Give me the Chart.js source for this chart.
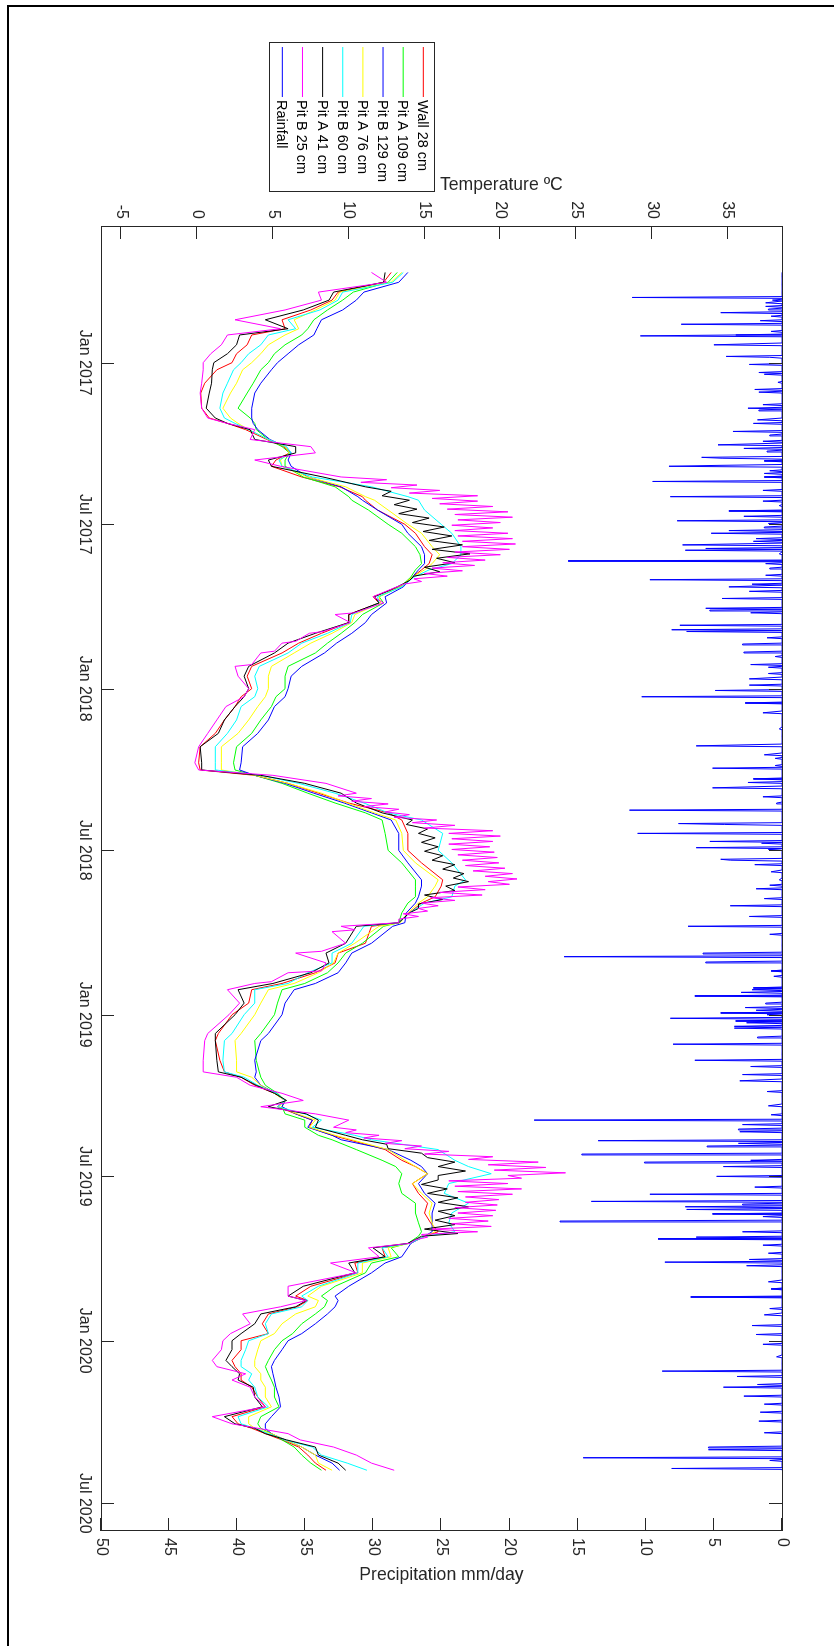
<!DOCTYPE html>
<html>
<head>
<meta charset="utf-8">
<script src="https://cdn.jsdelivr.net/npm/chart.js@4.4.1/dist/chart.umd.min.js"></script>
<style>
html,body{margin:0;padding:0;background:#fff;overflow:hidden;width:834px;height:1646px;}
#wrap{position:absolute;left:0;top:0;width:1646px;height:834px;transform-origin:0 0;transform:translate(834px,0) rotate(90deg);}
canvas{display:block;}
</style>
</head>
<body>
<div id="wrap"><canvas id="c" width="1646" height="834"></canvas></div>
<script>
// ---------- DATA ----------
const sampleDates = [
'2016-09-22','2016-10-03','2016-10-14','2016-10-23','2016-11-03','2016-11-14','2016-11-24','2016-12-01','2016-12-12','2016-12-22',
'2017-01-01','2017-01-09','2017-01-24','2017-02-04','2017-02-21','2017-03-04','2017-03-10','2017-03-17','2017-03-28','2017-04-05',
'2017-04-12','2017-04-20','2017-04-27','2017-05-09','2017-05-20','2017-05-31','2017-06-04','2017-06-15','2017-07-01','2017-07-11',
'2017-07-26','2017-08-04','2017-08-14','2017-08-21','2017-08-29','2017-09-09','2017-09-20','2017-09-27','2017-10-10','2017-10-19',
'2017-10-31','2017-11-11','2017-11-22','2017-12-07','2017-12-18',
'2018-01-01','2018-01-10','2018-01-21','2018-02-05','2018-02-20','2018-03-07','2018-03-25','2018-04-02','2018-04-08','2018-04-17',
'2018-04-28','2018-05-09','2018-05-20','2018-05-28','2018-06-12','2018-07-01','2018-07-15','2018-08-03','2018-08-10','2018-08-22',
'2018-08-29','2018-09-09','2018-09-20','2018-09-24','2018-10-13','2018-10-24','2018-11-04','2018-11-15','2018-11-27','2018-12-04',
'2018-12-19',
'2019-01-01','2019-01-22','2019-01-30','2019-02-21','2019-03-06','2019-03-12','2019-03-21','2019-03-30','2019-04-07','2019-04-14',
'2019-04-22','2019-04-29','2019-05-07','2019-05-16','2019-05-21','2019-06-01','2019-06-13','2019-06-20','2019-06-28','2019-07-09',
'2019-07-20','2019-07-31','2019-08-11','2019-08-22','2019-09-01','2019-09-06','2019-09-14','2019-09-19','2019-09-29','2019-10-06',
'2019-10-17','2019-11-01','2019-11-12','2019-11-17','2019-11-24','2019-12-02','2019-12-13','2019-12-24',
'2020-01-01','2020-01-11','2020-01-23','2020-01-30','2020-02-07','2020-02-14','2020-02-22','2020-03-04','2020-03-15','2020-03-26',
'2020-04-03','2020-04-08','2020-04-14','2020-04-21','2020-04-29','2020-05-08','2020-05-17','2020-05-25'
];

const wall28 = [
12.8,12.3,9.3,8.9,7.5,5.6,5.8,3.6,3.3,2.6,
2.3,1.3,0.5,0.24,0.3,0.8,2.0,3.2,4.6,5.7,6.1,5.2,4.9,6.9,9.4,10.9,11.1,11.9,13.7,14.4,15.0,15.5,15.3,14.8,14.2,13.4,11.6,12.0,10.0,10.0,8.2,6.7,5.6,3.6,3.3,
3.6,2.9,2.5,1.8,1.2,0.2,0.1,0.2,3.8,6.0,8.0,10.0,12.6,13.5,13.9,13.9,14.8,16.2,16.1,15.7,14.8,14.0,13.3,11.5,11.1,9.3,9.1,7.8,5.6,3.6,3.4,
2.3,1.4,1.2,1.5,1.8,2.9,3.8,5.1,5.8,5.3,6.5,7.6,7.4,8.9,10.0,12.4,13.5,14.4,15.2,14.2,14.6,15.2,15.0,15.4,15.9,15.0,14.0,12.2,12.4,10.4,10.6,7.5,6.5,7.3,6.6,4.7,4.3,4.7,
2.9,2.9,2.3,2.5,2.9,2.9,3.6,4.0,4.5,2.3,2.7,3.6,4.5,5.6,6.7,7.3,7.8,8.5
];
const pitA109 = [
13.2,12.6,10.3,9.6,8.6,7.7,7.3,6.9,5.8,5.1,
4.7,4.2,3.7,3.3,2.7,3.5,3.8,3.9,4.7,5.6,6.1,5.8,5.8,7.0,9.1,10.0,10.2,11.3,12.6,13.5,14.4,14.7,14.8,14.4,14.1,13.4,12.0,12.3,10.9,10.4,9.5,8.6,7.8,6.0,5.8,
5.8,5.2,4.9,4.2,3.6,2.6,2.4,2.5,3.8,5.6,7.3,9.1,11.1,12.2,12.4,12.6,13.5,14.4,14.4,14.4,13.9,13.5,13.3,12.3,10.9,9.8,9.3,8.6,7.1,5.6,5.3,
5.1,4.2,3.8,3.9,4.1,4.2,4.5,5.3,5.8,5.6,5.8,7.1,7.1,8.0,8.9,10.5,12.2,13.1,13.5,13.3,13.5,14.4,14.4,14.6,14.8,14.6,13.9,12.8,13.3,11.5,11.1,9.1,8.2,8.6,8.4,7.8,6.9,6.3,
5.6,5.1,4.7,4.5,4.7,4.9,5.1,5.1,5.4,4.2,4.0,4.2,4.9,5.6,6.4,6.9,7.5,8.2
];
const pitB129 = [
13.9,13.3,11.0,10.5,9.6,8.2,7.9,7.7,6.7,6.0,
5.3,4.9,4.2,3.8,3.6,3.6,3.7,4.0,4.8,5.8,6.2,6.0,6.2,7.3,9.5,10.6,10.9,11.9,13.5,13.9,14.8,15.0,15.0,14.6,14.2,13.6,12.4,12.5,11.5,11.1,10.2,9.2,8.4,6.9,6.2,
6.0,5.8,5.1,4.7,4.0,3.0,2.9,2.8,3.8,5.8,7.7,9.7,11.5,12.8,13.3,13.3,13.9,14.8,14.8,14.6,14.4,13.8,13.7,12.9,11.5,10.2,9.8,9.3,7.8,6.4,5.8,
5.6,4.7,4.2,3.8,3.9,3.8,4.2,5.2,5.8,5.6,6.5,7.6,7.3,8.9,9.5,12.6,14.1,14.8,15.2,14.6,15.0,15.7,15.5,15.5,15.5,15.0,14.1,13.9,13.5,12.4,11.5,10.0,9.1,9.3,9.1,8.6,7.8,6.9,
6.0,5.6,5.1,4.9,5.0,5.1,5.2,5.4,5.5,4.9,4.5,4.5,4.9,5.8,6.9,7.8,8.9,9.4
];
const pitA76 = [
13.5,12.8,9.4,9.1,7.8,6.4,6.7,5.8,4.7,4.2,
3.6,3.0,2.6,2.2,1.7,2.2,2.7,3.4,4.7,5.8,6.1,5.5,5.6,7.3,9.8,11.1,11.7,12.6,13.9,14.8,15.5,16.0,15.5,15.0,14.2,13.4,12.0,12.1,10.4,10.2,8.9,7.5,6.4,4.9,4.7,
4.7,4.5,4.0,3.4,2.7,1.6,1.6,1.6,3.8,6.0,8.2,9.9,11.7,13.1,13.5,13.6,14.4,15.9,15.7,15.2,14.6,13.9,13.4,12.0,10.4,9.3,9.0,8.0,6.4,4.7,4.2,
3.8,2.9,2.5,2.6,2.6,3.6,4.2,5.1,5.8,5.4,6.6,7.8,7.4,9.1,10.2,12.6,13.7,14.4,15.2,14.2,14.8,15.5,15.3,15.5,15.7,15.0,14.0,12.6,12.8,10.9,10.9,8.2,7.3,8.0,7.8,6.5,5.6,5.1,
4.2,4.0,3.8,3.8,4.2,4.2,4.5,4.5,4.9,3.4,3.4,3.8,4.9,5.8,6.9,7.8,8.0,8.9
];
const pitB60 = [
13.6,12.9,9.6,9.3,8.1,6.0,6.5,4.7,4.2,3.4,
2.9,2.4,2.0,1.7,1.5,1.8,2.5,3.4,4.7,5.9,6.2,5.4,5.6,7.6,11.5,13.9,14.6,15.0,16.1,16.8,17.4,17.4,16.8,15.3,14.3,13.5,11.9,12.0,10.2,10.1,8.6,6.9,6.0,4.1,3.8,
4.0,3.8,2.9,2.6,2.0,1.2,1.2,1.2,4.2,6.7,9.1,11.0,12.6,14.8,16.2,15.9,16.8,17.7,17.0,16.8,15.0,14.0,13.3,11.0,10.2,8.9,8.9,7.3,6.0,3.8,3.8,
3.1,2.3,1.8,1.7,1.8,3.1,4.0,5.2,5.8,5.3,7.1,8.2,7.6,10.4,11.5,15.9,17.0,17.9,19.4,16.6,16.3,17.9,16.8,16.6,17.0,15.0,14.0,12.2,12.6,10.6,10.6,8.0,6.9,7.3,6.9,4.9,4.5,4.7,
3.4,3.2,2.9,2.9,3.6,3.4,3.8,4.0,4.7,2.7,2.9,3.8,4.7,5.8,7.6,8.2,9.9,11.2
];

// Pit A 41 cm (own, denser dates in summer)
const pitA41Dates = [
'2016-09-22','2016-10-03','2016-10-14','2016-10-23','2016-11-03','2016-11-14','2016-11-24','2016-12-01','2016-12-12','2016-12-22',
'2017-01-01','2017-01-09','2017-01-24','2017-02-04','2017-02-21','2017-03-04','2017-03-10','2017-03-17','2017-03-28','2017-04-05',
'2017-04-12','2017-04-20','2017-04-27','2017-05-09',
'2017-05-20','2017-05-25','2017-05-30','2017-06-04','2017-06-09','2017-06-14','2017-06-19','2017-06-24','2017-06-29','2017-07-04',
'2017-07-09','2017-07-14','2017-07-19','2017-07-24','2017-07-29','2017-08-03','2017-08-08','2017-08-13','2017-08-18','2017-08-23',
'2017-08-28','2017-09-02',
'2017-09-09','2017-09-20','2017-09-27','2017-10-10','2017-10-19','2017-10-31','2017-11-11','2017-11-22','2017-12-07','2017-12-18',
'2018-01-01','2018-01-10','2018-01-21','2018-02-05','2018-02-20','2018-03-07','2018-03-25','2018-04-02','2018-04-08','2018-04-17',
'2018-04-28','2018-05-09','2018-05-20',
'2018-05-28','2018-06-02','2018-06-07','2018-06-12','2018-06-17','2018-06-22','2018-06-27','2018-07-02','2018-07-07','2018-07-12',
'2018-07-17','2018-07-22','2018-07-27','2018-08-01','2018-08-05','2018-08-10','2018-08-15','2018-08-20','2018-08-25','2018-08-30',
'2018-09-04',
'2018-09-09','2018-09-20','2018-09-24','2018-10-13','2018-10-24','2018-11-04','2018-11-15','2018-11-27','2018-12-04','2018-12-19',
'2019-01-01','2019-01-22','2019-01-30','2019-02-21','2019-03-06','2019-03-12','2019-03-21','2019-03-30','2019-04-07','2019-04-14',
'2019-04-22','2019-04-29','2019-05-07','2019-05-16',
'2019-05-21','2019-05-26','2019-05-31','2019-06-05','2019-06-10','2019-06-15','2019-06-20','2019-06-25','2019-06-30','2019-07-05',
'2019-07-10','2019-07-15','2019-07-20','2019-07-25','2019-07-30','2019-08-04','2019-08-09','2019-08-14','2019-08-19','2019-08-24',
'2019-08-29','2019-09-03','2019-09-06',
'2019-09-14','2019-09-19','2019-09-29','2019-10-06','2019-10-17','2019-11-01','2019-11-12','2019-11-17','2019-11-24','2019-12-02',
'2019-12-13','2019-12-24',
'2020-01-01','2020-01-11','2020-01-23','2020-01-30','2020-02-07','2020-02-14','2020-02-22','2020-03-04','2020-03-15','2020-03-26',
'2020-04-03','2020-04-08','2020-04-14','2020-04-21','2020-04-29','2020-05-08','2020-05-17','2020-05-25'
];
const pitA41 = [
12.4,12.3,9.0,8.7,7.0,4.5,6.0,2.8,2.6,2.0,
1.1,1.0,0.95,0.8,0.6,1.2,2.0,3.5,3.8,6.5,
6.5,4.7,4.9,8.3,
11.1,12.8,12.2,14.0,13.0,14.5,13.3,15.3,14.2,16.3,
14.9,16.8,15.3,17.5,15.5,18.0,15.8,17.0,15.0,16.0,
14.3,14.0,
13.2,11.7,12.0,10.0,10.0,7.8,6.0,5.1,3.4,3.1,
3.4,3.1,2.5,1.8,1.4,0.2,0.3,0.3,4.2,7.1,
9.5,10.5,12.2,
14.2,13.8,15.2,14.6,15.7,14.8,15.9,15.0,16.2,15.5,
17.0,16.2,17.6,16.9,17.9,16.4,17.0,15.0,16.2,14.6,
14.6,
14.0,13.3,10.5,9.8,8.5,8.7,7.5,5.0,2.7,3.1,
2.5,1.2,1.2,1.3,1.4,2.9,3.9,5.1,5.9,4.7,
7.2,8.0,7.8,9.8,
10.9,12.5,12.6,14.8,15.2,17.0,15.9,17.7,15.9,15.9,
14.8,16.5,15.2,17.2,15.9,17.9,15.9,17.0,15.7,17.0,
15.0,17.2,14.8,
13.9,11.6,12.4,10.0,10.4,7.0,6.0,7.2,6.5,4.2,
3.8,2.9,
2.3,2.3,1.9,2.3,2.8,2.7,3.7,3.8,4.3,1.8,
2.5,3.8,4.5,5.9,7.8,8.0,9.3,9.8
];

// Pit B 25 cm (own, denser dates in summer)
const pitB25Dates = [
'2016-09-22','2016-10-03','2016-10-14','2016-10-23','2016-11-03','2016-11-14','2016-11-24','2016-12-01','2016-12-12','2016-12-22',
'2017-01-01','2017-01-09','2017-01-24','2017-02-04','2017-02-21','2017-03-04','2017-03-10','2017-03-17','2017-03-28','2017-04-05',
'2017-04-12','2017-04-20','2017-04-27',
'2017-05-09','2017-05-12','2017-05-15','2017-05-18','2017-05-21','2017-05-24','2017-05-27','2017-05-30','2017-06-02','2017-06-05',
'2017-06-08','2017-06-11','2017-06-14','2017-06-17','2017-06-20','2017-06-23','2017-06-26','2017-06-29','2017-07-02','2017-07-05',
'2017-07-08','2017-07-11','2017-07-14','2017-07-17','2017-07-20','2017-07-23','2017-07-26','2017-07-29','2017-08-01','2017-08-04',
'2017-08-07','2017-08-10','2017-08-13','2017-08-16','2017-08-19','2017-08-22','2017-08-25','2017-08-28','2017-08-31','2017-09-03',
'2017-09-06',
'2017-09-20','2017-09-27','2017-10-08','2017-10-10','2017-10-19','2017-10-29','2017-10-31','2017-11-09','2017-11-11','2017-11-20',
'2017-11-22','2017-12-05','2017-12-07','2017-12-18',
'2018-01-01','2018-01-10','2018-01-21','2018-02-05','2018-02-20','2018-03-07','2018-03-25','2018-04-02','2018-04-08','2018-04-17',
'2018-04-28','2018-05-01','2018-05-04','2018-05-07','2018-05-10','2018-05-13','2018-05-16','2018-05-19','2018-05-22','2018-05-25',
'2018-05-28','2018-05-31','2018-06-03','2018-06-06','2018-06-09','2018-06-12','2018-06-15','2018-06-18','2018-06-21','2018-06-24',
'2018-06-27','2018-06-30','2018-07-03','2018-07-06','2018-07-09','2018-07-12','2018-07-15','2018-07-18','2018-07-21','2018-07-24',
'2018-07-27','2018-07-30','2018-08-02','2018-08-05','2018-08-08','2018-08-11','2018-08-14','2018-08-17','2018-08-20','2018-08-23',
'2018-08-26','2018-08-29','2018-09-01','2018-09-04','2018-09-07','2018-09-10','2018-09-13','2018-09-16','2018-09-20',
'2018-09-24','2018-09-28','2018-09-30','2018-10-13','2018-10-22','2018-10-24','2018-11-04','2018-11-13','2018-11-15','2018-11-25',
'2018-11-27','2018-12-04','2018-12-19',
'2019-01-01','2019-01-22','2019-01-30','2019-02-21','2019-03-06','2019-03-12','2019-03-21','2019-03-30','2019-04-07','2019-04-14',
'2019-04-22','2019-04-29',
'2019-05-07','2019-05-10','2019-05-13','2019-05-16','2019-05-19','2019-05-22','2019-05-25','2019-05-28','2019-05-31','2019-06-03',
'2019-06-06','2019-06-09','2019-06-12','2019-06-15','2019-06-18','2019-06-21','2019-06-24','2019-06-27','2019-06-30','2019-07-03',
'2019-07-06','2019-07-09','2019-07-12','2019-07-15','2019-07-18','2019-07-21','2019-07-24','2019-07-27','2019-07-30','2019-08-02',
'2019-08-05','2019-08-08','2019-08-11','2019-08-14','2019-08-17','2019-08-20','2019-08-23','2019-08-26','2019-08-29','2019-09-01',
'2019-09-04','2019-09-07','2019-09-10','2019-09-14',
'2019-09-19','2019-09-29','2019-10-06','2019-10-17','2019-11-01','2019-11-12','2019-11-17','2019-11-24','2019-12-02','2019-12-13',
'2019-12-24',
'2020-01-01','2020-01-11','2020-01-23','2020-01-30','2020-02-07','2020-02-14','2020-02-22','2020-03-04','2020-03-15','2020-03-26',
'2020-04-03','2020-04-08','2020-04-14','2020-04-21','2020-04-29','2020-05-08','2020-05-17','2020-05-25'
];
const pitB25 = [
11.5,12.5,8.0,8.2,5.8,2.5,5.5,2.0,1.6,0.9,
0.4,0.4,0.3,0.2,0.3,0.7,2.0,3.8,3.5,7.5,
7.8,3.8,5.5,
9.5,12.5,10.8,14.5,12.8,16.0,14.0,18.5,15.5,18.5,
16.0,19.5,16.5,20.5,17.0,20.8,17.2,20.0,16.8,19.5,
17.0,20.5,17.2,20.8,17.5,21.0,17.5,20.6,17.0,20.0,
16.5,19.0,16.2,18.3,15.5,17.5,15.0,16.5,14.3,14.8,
13.6,
11.6,12.3,10.4,9.1,10.1,8.3,7.4,6.5,5.6,5.1,
4.2,3.6,2.5,2.7,
3.4,3.1,1.9,1.3,0.7,0.1,-0.15,0.1,5.0,8.5,
10.5,9.3,11.5,10.2,12.6,11.0,13.3,12.4,14.0,13.0,
15.8,14.2,17.0,15.0,19.5,16.6,20.0,16.8,19.5,16.6,
19.3,16.8,19.6,17.2,19.8,17.5,19.9,17.7,20.3,18.2,
20.8,19.0,21.1,19.2,20.6,17.2,19.0,16.0,18.8,15.4,
17.0,14.8,15.9,14.6,15.2,13.6,14.6,13.3,13.3,
9.5,10.4,8.9,9.8,8.2,6.5,8.5,8.2,6.0,4.9,
3.8,2.0,2.8,
2.1,0.7,0.5,0.4,0.4,2.6,3.5,5.6,7.0,4.2,
7.8,10.0,
9.0,10.5,9.8,12.0,11.0,13.5,12.4,14.8,13.7,16.6,
15.0,19.5,17.9,22.5,19.2,23.0,19.6,24.3,20.5,21.4,
16.6,20.5,17.0,21.4,17.2,20.8,17.7,19.9,17.7,19.8,
17.0,19.7,17.2,19.5,16.6,19.2,16.8,19.4,15.5,18.5,
14.8,15.2,14.4,14.0,
11.3,12.0,8.8,10.5,6.0,6.0,7.2,5.5,3.0,3.5,
2.2,
1.7,1.6,1.0,1.3,3.2,2.3,3.5,3.8,4.5,1.0,
2.3,4.0,6.0,6.8,9.0,10.5,11.5,13.0
];

const rainFirstDay = '2016-09-22';
const rainLastDay = '2020-05-25';
const rainDates = [
'2016-10-20','2016-10-23','2016-10-26','2016-10-30','2016-11-02','2016-11-06','2016-11-10','2016-11-15','2016-11-19','2016-11-27',
'2016-12-01','2016-12-02','2016-12-12','2016-12-25','2016-12-26','2017-01-03','2017-01-12','2017-01-14','2017-01-23','2017-01-31',
'2017-02-03','2017-02-17','2017-02-21','2017-02-23','2017-03-06','2017-03-10','2017-03-19','2017-03-23','2017-03-30','2017-04-03',
'2017-04-07','2017-04-10','2017-04-17','2017-04-18','2017-04-21','2017-04-26','2017-04-27','2017-05-02','2017-05-05','2017-05-09',
'2017-05-14','2017-05-24','2017-05-31','2017-06-05','2017-06-10','2017-06-16','2017-06-22','2017-06-27','2017-06-30','2017-07-04',
'2017-07-08','2017-07-11','2017-07-17','2017-07-20','2017-07-24','2017-07-28','2017-07-30','2017-08-03','2017-08-11','2017-08-14',
'2017-08-19','2017-08-27','2017-09-01','2017-09-06','2017-09-09','2017-09-14','2017-09-22','2017-10-03','2017-10-05','2017-10-08',
'2017-10-22','2017-10-27','2017-10-29','2017-11-05','2017-11-12','2017-11-21','2017-11-26','2017-12-05','2017-12-08','2017-12-15',
'2017-12-21','2017-12-28','2018-01-03','2018-01-10','2018-01-17','2018-01-28','2018-02-15','2018-03-06','2018-03-16','2018-03-20',
'2018-03-28','2018-03-31','2018-04-12','2018-04-16','2018-04-22','2018-05-02','2018-05-09','2018-05-17','2018-06-01','2018-06-02',
'2018-06-12','2018-06-21','2018-06-23','2018-06-28','2018-06-30','2018-07-11','2018-07-12','2018-07-17','2018-07-25','2018-08-03',
'2018-08-09','2018-08-13','2018-08-24','2018-09-01','2018-09-13','2018-09-24','2018-10-03','2018-10-24','2018-10-28','2018-11-03',
'2018-11-13','2018-11-19','2018-12-02','2018-12-04','2018-12-07','2018-12-11','2018-12-19','2018-12-24','2018-12-27','2018-12-30',
'2019-01-01','2019-01-05','2019-01-08','2019-01-10','2019-01-14','2019-01-16','2019-01-26','2019-02-03','2019-02-21','2019-02-28',
'2019-03-09','2019-03-16','2019-03-28','2019-04-13','2019-04-23','2019-04-29','2019-05-04','2019-05-09','2019-05-12','2019-05-22',
'2019-05-25','2019-05-28','2019-06-06','2019-06-13','2019-06-15','2019-06-20','2019-07-01','2019-07-13','2019-07-21','2019-07-29',
'2019-08-01','2019-08-04','2019-08-07','2019-08-12','2019-08-15','2019-08-20','2019-09-01','2019-09-07','2019-09-09','2019-09-16',
'2019-09-25','2019-10-02','2019-10-05','2019-10-09','2019-10-27','2019-11-04','2019-11-13','2019-11-26','2019-12-03','2019-12-15',
'2019-12-25','2020-01-05','2020-01-19','2020-02-04','2020-02-10','2020-02-19','2020-02-22','2020-03-03','2020-03-12','2020-03-21',
'2020-03-31','2020-04-13','2020-04-29','2020-05-02','2020-05-11','2020-05-14','2020-05-23'
];
const rainValues = [
11.0,0.7,1.2,1.2,1.0,4.5,0.8,1.6,7.4,0.8,
3.4,10.4,5.0,4.1,0.9,2.4,1.7,1.3,0.3,2.0,
1.7,1.4,2.5,1.7,1.8,2.1,3.6,0.9,1.4,4.7,
2.8,1.1,5.9,4.4,1.3,4.7,8.3,0.9,1.3,1.3,
9.5,1.4,8.2,1.4,0.2,3.9,2.8,7.7,1.0,1.3,
3.9,5.2,1.9,2.1,7.3,5.6,7.1,0.2,15.7,1.2,
0.9,1.2,9.7,2.2,3.9,2.4,4.4,5.6,5.3,2.3,
7.5,8.1,7.0,1.1,2.9,2.8,0.5,2.3,1.0,1.0,
2.4,2.4,4.9,10.3,2.7,1.4,0.2,6.3,1.3,0.5,
0.5,5.1,2.1,2.5,5.1,1.4,0.4,11.2,7.6,4.2,
10.6,5.3,1.5,6.3,1.0,4.5,3.8,2.0,0.8,0.2,
0.9,1.9,1.3,3.8,2.4,6.9,0.9,5.8,16.0,5.6,
0.8,0.6,2.1,2.2,3.0,6.4,1.2,2.7,1.9,4.5,
1.1,8.2,3.4,2.6,3.5,3.5,1.8,8.0,6.4,2.3,
2.9,3.1,1.1,1.0,0.8,18.2,2.9,3.2,3.1,13.5,
3.2,5.5,14.7,2.3,10.1,4.3,4.8,2.0,9.7,14.0,
2.9,7.1,7.0,5.1,1.4,16.3,2.9,6.3,9.1,1.4,
1.0,2.4,8.6,2.6,1.0,0.8,6.7,0.9,1.3,2.2,
1.9,1.4,0.4,8.8,3.3,1.8,4.3,2.8,1.3,1.6,
1.7,1.3,5.4,5.4,14.6,0.9,8.1
];

const axisStart = '2016-08-01';
const axisEnd = '2020-08-01';
const timeTickDates = ['2017-01-01','2017-07-01','2018-01-01','2018-07-01','2019-01-01','2019-07-01','2020-01-01','2020-07-01'];
const timeTickLabels = ['Jan 2017','Jul 2017','Jan 2018','Jul 2018','Jan 2019','Jul 2019','Jan 2020','Jul 2020'];
const tempTicks = [-5,0,5,10,15,20,25,30,35];
const tempTickLabels = ['-5','0','5','10','15','20','25','30','35'];
const precipTicks = [0,5,10,15,20,25,30,35,40,45,50];
const precipTickLabels = ['0','5','10','15','20','25','30','35','40','45','50'];
const tempRange = [-6.34, 38.58];
const precipRange = [0, 50];
const tempTitle = 'Temperature \u00BAC';
const precipTitle = 'Precipitation mm/day';
const seriesNames = ['Wall 28 cm','Pit A 109 cm','Pit B 129 cm','Pit A 76 cm','Pit B 60 cm','Pit A 41 cm','Pit B 25 cm','Rainfall'];
const seriesColors = ['#ff0000','#00ff00','#0000ff','#ffff00','#00ffff','#000000','#ff00ff','#0000ff'];

// ---------- BUILD ----------
function dayNum(s){ const p = s.split('-'); return Date.UTC(+p[0], +p[1]-1, +p[2]) / 864e5; }
const pts = (dates, vals) => vals.map((v, i) => ({x: dayNum(dates[i]), y: v}));
const tempSeries = [
  pts(sampleDates, wall28), pts(sampleDates, pitA109), pts(sampleDates, pitB129), pts(sampleDates, pitA76),
  pts(sampleDates, pitB60), pts(pitA41Dates, pitA41), pts(pitB25Dates, pitB25)
];

const rainMap = {};
rainDates.forEach((d, i) => { rainMap[dayNum(d)] = rainValues[i]; });
const rainPts = [];
for (let t = dayNum(rainFirstDay); t <= dayNum(rainLastDay); t++) rainPts.push({x: t, y: rainMap[t] || 0});

const datasets = [];
datasets.push({label: seriesNames[7], data: rainPts, borderColor: seriesColors[7], yAxisID: 'y2', borderWidth: 1});
for (let k = 6; k >= 0; k--) {
  datasets.push({label: seriesNames[k], data: tempSeries[k], borderColor: seriesColors[k], yAxisID: 'y', borderWidth: 1});
}

const FONT = 'Liberation Sans, Arial, Helvetica, sans-serif';
const INK = '#262626';
Chart.defaults.font.family = FONT;
Chart.defaults.color = INK;

const framePlugin = {
  id: 'frame',
  afterDraw(chart) {
    const ctx = chart.ctx, a = chart.chartArea;
    const sx = chart.scales.x, st = chart.scales.y, sp = chart.scales.y2;
    const TL = 13;
    ctx.save();
    ctx.strokeStyle = INK; ctx.lineWidth = 1;
    const line = (x1, y1, x2, y2) => { ctx.beginPath(); ctx.moveTo(x1, y1); ctx.lineTo(x2, y2); ctx.stroke(); };
    ctx.strokeRect(Math.round(a.left) + 0.5, Math.round(a.top) - 0.5, Math.round(a.right - a.left) - 1, Math.round(a.bottom - a.top));
    timeTickDates.forEach(d => {
      const p = Math.round(sx.getPixelForValue(dayNum(d))) + 0.5;
      line(p, a.bottom, p, a.bottom - TL);
      line(p, a.top, p, a.top + TL);
    });
    tempTicks.forEach(v => {
      const p = Math.round(st.getPixelForValue(v)) + 0.5;
      line(a.left, p, a.left + TL, p);
    });
    precipTicks.forEach(v => {
      const p = Math.round(sp.getPixelForValue(v)) + 0.5;
      line(a.right, p, a.right - TL, p);
    });
    ctx.fillStyle = INK;
    ctx.font = '17.6px ' + FONT;
    ctx.textBaseline = 'alphabetic';
    ctx.save(); ctx.translate(190, 394); ctx.rotate(-Math.PI / 2); ctx.textAlign = 'left'; ctx.fillText(tempTitle, 0, 0); ctx.restore();
    ctx.save(); ctx.translate(1579.5, (a.top + a.bottom) / 2); ctx.rotate(-Math.PI / 2); ctx.textAlign = 'center'; ctx.fillText(precipTitle, 0, 0); ctx.restore();
    ctx.fillStyle = '#fff'; ctx.fillRect(42, 399, 149, 165);
    ctx.strokeStyle = INK; ctx.strokeRect(42.5, 399.5, 149, 165);
    ctx.font = '14.5px ' + FONT; ctx.textAlign = 'left'; ctx.textBaseline = 'middle';
    seriesNames.forEach((n, i) => {
      const y = 410.7 + i * 20.14;
      ctx.strokeStyle = seriesColors[i]; line(47, y, 97, y);
      ctx.fillStyle = '#000'; ctx.fillText(n, 100, y + 1);
    });
    ctx.fillStyle = '#000';
    ctx.fillRect(5, 0, 2, 827);
    ctx.fillRect(5, 825, 1641, 2);
    ctx.restore();
  }
};

const tickFont = {size: 16, family: FONT};
new Chart(document.getElementById('c'), {
  type: 'line',
  data: {datasets},
  options: {
    responsive: false, animation: false, devicePixelRatio: 1, events: [],
    layout: {padding: {top: 52, left: 0, right: 0, bottom: 0}},
    plugins: {legend: {display: false}, tooltip: {enabled: false}, title: {display: false}},
    elements: {point: {radius: 0}, line: {tension: 0, borderWidth: 1}},
    scales: {
      x: {
        type: 'linear', position: 'bottom', min: dayNum(axisStart), max: dayNum(axisEnd),
        afterBuildTicks: s => { s.ticks = timeTickDates.map(d => ({value: dayNum(d)})); },
        afterFit: s => { s.height = 101; },
        grid: {display: false, drawTicks: false}, border: {display: false},
        ticks: {callback: (v, i) => timeTickLabels[i], padding: 7, maxRotation: 0, minRotation: 0, autoSkip: false, color: INK, font: tickFont}
      },
      y: {
        type: 'linear', position: 'left', min: tempRange[0], max: tempRange[1],
        afterBuildTicks: s => { s.ticks = tempTicks.map(v => ({value: v})); },
        afterFit: s => { s.width = 226; },
        grid: {display: false, drawTicks: false}, border: {display: false},
        ticks: {callback: (v, i) => tempTickLabels[i], padding: 7, autoSkip: false, color: INK, font: tickFont}
      },
      y2: {
        type: 'linear', position: 'right', min: precipRange[0], max: precipRange[1], reverse: true,
        afterBuildTicks: s => { s.ticks = precipTicks.map(v => ({value: v})); },
        afterFit: s => { s.width = 115; },
        grid: {display: false, drawTicks: false}, border: {display: false},
        ticks: {callback: (v, i) => precipTickLabels[i], padding: 7, autoSkip: false, color: INK, font: tickFont}
      }
    }
  },
  plugins: [framePlugin]
});
</script>
</body>
</html>
